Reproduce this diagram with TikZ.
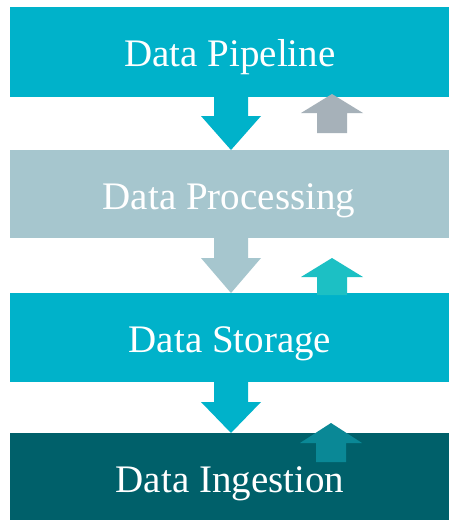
\documentclass[tikz,border=0pt]{standalone}
\usepackage{fontspec}
\setmainfont{Liberation Serif}
\definecolor{cyanband}{RGB}{0,178,202}
\definecolor{grayband}{RGB}{166,198,206}
\definecolor{darkband}{RGB}{0,96,106}
\definecolor{upgray}{RGB}{166,177,185}
\definecolor{upteal}{RGB}{28,192,196}
\definecolor{updark}{RGB}{10,136,150}
\newcommand{\mydarrow}[5]{% color, cx, top, headtop, tip
  \fill[#1] (#2-17,#3) -- (#2+17,#3) -- (#2+17,#4) -- (#2+30,#4) -- (#2,#5) -- (#2-30,#4) -- (#2-17,#4) -- cycle;}
\newcommand{\myuarrow}[5]{% color, cx, tip, headbase, bottom
  \fill[#1] (#2,#3) -- (#2+31,#4) -- (#2+15,#4) -- (#2+15,#5) -- (#2-15,#5) -- (#2-15,#4) -- (#2-31,#4) -- cycle;}
\tikzset{
  band/.style={draw=none, minimum width=439pt, inner sep=0pt, anchor=north west},
  lbl/.style={text=white, font=\fontsize{39}{40}\selectfont, anchor=base, inner sep=0pt}
}
\begin{document}
\begin{tikzpicture}[x=1pt,y=-1pt]
\useasboundingbox (0,0) rectangle (449,520);
\fill[white] (0,0) rectangle (449,520);
% bands
\node[band, fill=cyanband, minimum height=90pt] (b1) at (10,7) {};
\node[band, fill=grayband, minimum height=88pt] (b2) at (10,150) {};
\node[band, fill=cyanband, minimum height=89pt] (b3) at (10,293) {};
\node[band, fill=darkband, minimum height=87pt] (b4) at (10,433) {};
% up arrows
\myuarrow{upgray}{332}{94}{113}{133}
\myuarrow{upteal}{332}{258}{277}{295}
\myuarrow{updark}{331}{423}{443}{462}
% down arrows
\mydarrow{cyanband}{231}{96}{116}{150}
\mydarrow{grayband}{231}{237}{258}{293}
\mydarrow{cyanband}{231}{381}{402}{433}
% labels
\node[lbl] (t1) at (230,66) {Data Pipeline};
\node[lbl] (t2) at (229,209) {Data Processing};
\node[lbl] (t3) at (230,352) {Data Storage};
\node[lbl] (t4) at (230,492) {Data Ingestion};
\end{tikzpicture}
\end{document}
